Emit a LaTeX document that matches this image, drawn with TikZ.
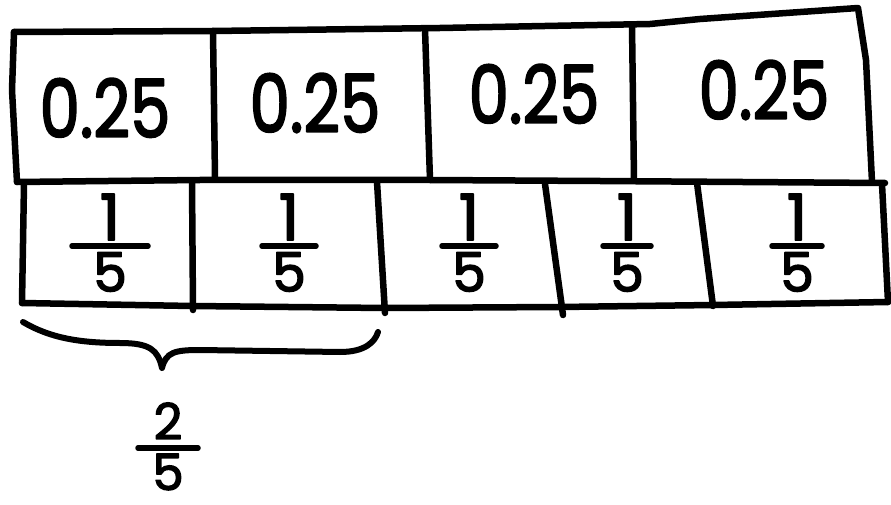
\documentclass[tikz,border=0pt]{standalone}
\usepackage{fontspec}
\usepackage{graphicx}
\setmainfont{Poppins}
\newfontfamily\handfont{Poppins}[FakeBold=2.6]
\begin{document}
\begin{tikzpicture}[x=1pt,y=-1pt,line cap=round,line join=round]
\tikzset{
  edge/.style={line width=6.5pt},
  fbar/.style={line width=5.5pt},
  brace/.style={line width=6pt},
  dec/.style={font=\handfont\fontsize{80}{80}\selectfont,inner sep=0pt},
  num/.style={font=\handfont\fontsize{64}{64}\selectfont,inner sep=0pt},
  den/.style={font=\handfont\fontsize{54}{54}\selectfont,inner sep=0pt},
  sden/.style={font=\handfont\fontsize{50}{50}\selectfont,inner sep=0pt}
}
\useasboundingbox (0,0) rectangle (891,505);
% corners
\coordinate (TL) at (14,32);
\coordinate (TR) at (858,8);
\coordinate (ML) at (17,182);
\coordinate (MR) at (885,183);
\coordinate (BL) at (22,303);
\coordinate (BR) at (888,302);
% outline
\draw[edge] (TL) -- (213,31) -- (440,28) -- (650,24) -- (700,19) -- (TR)
  -- (866,60) -- (872,182);
\draw[edge] (TL) -- (12,90) -- (ML);
\draw[edge] (ML) -- (200,180) -- (430,180) -- (600,181) -- (MR);
\draw[edge] (24,184) -- (BL);
\draw[edge] (882,184) -- (BR);
\draw[edge] (BL) -- (192,306) -- (385,308) -- (560,307) -- (713,305) -- (BR);
% top dividers
\draw[edge] (213,31) -- (215,178);
\draw[edge] (425,29) -- (430,180);
\draw[edge] (632,25) -- (634,180);
% bottom dividers
\draw[edge] (192,182) -- (193,310);
\draw[edge] (377,182) -- (385,313);
\draw[edge] (545,184) -- (563,315);
\draw[edge] (697,183) -- (713,306);
% decimals
\node[dec] (d1) at (105,108) {\scalebox{0.8}[1]{0.25}};
\node[dec] (d2) at (315,103) {\scalebox{0.8}[1]{0.25}};
\node[dec] (d3) at (534,94) {\scalebox{0.8}[1]{0.25}};
\node[dec] (d4) at (764,90) {\scalebox{0.8}[1]{0.25}};
% fractions
\foreach \i/\cx/\hw in {1/110/38,2/289/27,3/469/27,4/627/24,5/797/25}{
  \node[num] (n\i) at (\cx,217) {1};
  \node[den] (m\i) at (\cx,272) {5};
  \coordinate (bl\i) at (\cx-\hw,246);
  \coordinate (br\i) at (\cx+\hw,246);
  \draw[fbar] (bl\i) -- (br\i);
}
% brace
\coordinate (brL) at (23,322);
\coordinate (brT) at (162,368);
\coordinate (brR) at (378,332);
\draw[brace] (brL) .. controls (50,338) and (80,343) .. (120,343)
  .. controls (150,343) and (158,350) .. (brT)
  .. controls (166,352) and (175,350) .. (200,350) -- (340,352)
  .. controls (365,352) and (375,342) .. (brR);
% 2/5
\node[sden] (tn) at (168,421) {2};
\node[sden] (td) at (168,472) {5};
\coordinate (tbl) at (138,448);
\coordinate (tbr) at (198,448);
\draw[fbar] (tbl) -- (tbr);
\end{tikzpicture}
\end{document}
